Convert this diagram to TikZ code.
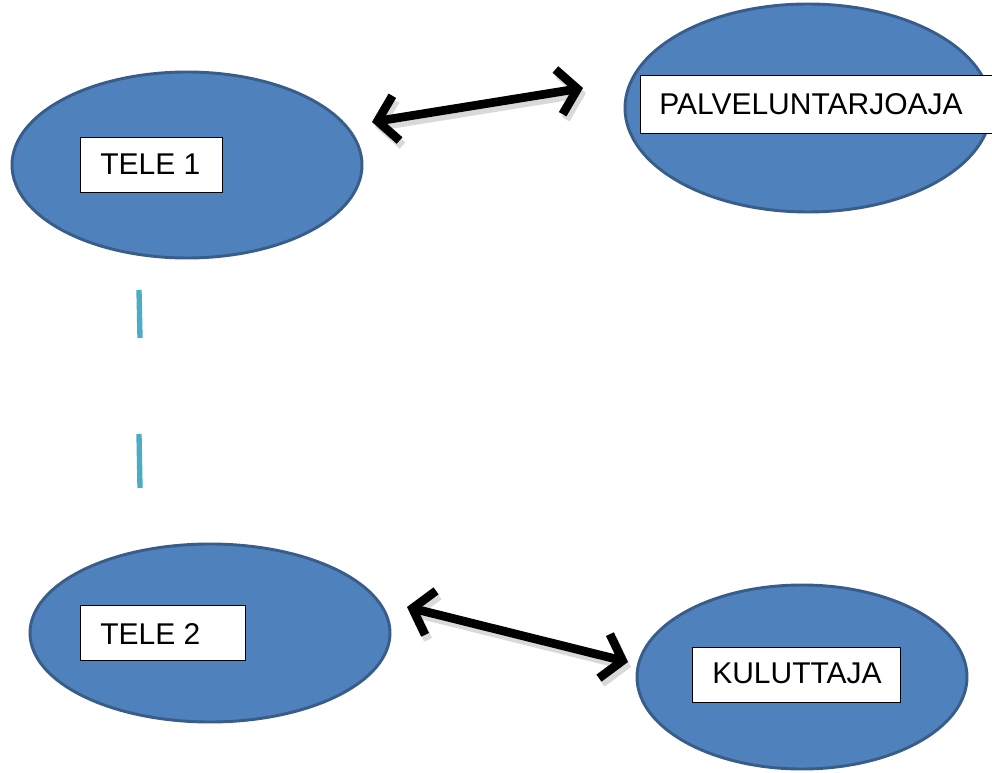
\documentclass[tikz,border=0pt]{standalone}
\usepackage{fontspec}
\setmainfont{Liberation Sans}
\usetikzlibrary{shapes.geometric,arrows.meta,shadows}
\definecolor{ellfill}{HTML}{4F81BD}
\definecolor{elldraw}{HTML}{385D8A}
\definecolor{dashblue}{HTML}{4BACC6}
\tikzset{
  blob/.style={ellipse, fill=ellfill, draw=elldraw, line width=2.2pt, inner sep=0pt},
  label box/.style={draw=black, line width=0.9pt, fill=white, anchor=north west, inner sep=0pt},
  label text/.style={anchor=west, inner sep=0pt, font=\fontsize{22.5pt}{26pt}\selectfont},
  dbl/.style={line width=6.5pt, black, {Straight Barb[length=14pt,width=34pt,line width=6.5pt]}-{Straight Barb[length=14pt,width=34pt,line width=6.5pt]}},
  tick/.style={line width=4pt, dashblue}
}
\begin{document}
\begin{tikzpicture}[x=0.75pt,y=-0.75pt]
\useasboundingbox (0,0) rectangle (992,773);
\node[blob, minimum width=350*0.75pt, minimum height=186*0.75pt] (t1) at (187,165) {};
\node[blob, minimum width=366*0.75pt, minimum height=208*0.75pt] (pv) at (808,108) {};
\node[blob, minimum width=360*0.75pt, minimum height=178*0.75pt] (t2) at (210,633) {};
\node[blob, minimum width=330*0.75pt, minimum height=184*0.75pt] (ku) at (802,677) {};

\node[label box, minimum width=142*0.75pt, minimum height=55*0.75pt] (t1l) at (80,137) {};
\node[label text] (t1t) at (100,164) {TELE 1};
\node[label box, minimum width=352*0.75pt, minimum height=58*0.75pt] (pvl) at (640,75) {};
\node[label text] (pvt) at (659,104) {PALVELUNTARJOAJA};
\node[label box, minimum width=165*0.75pt, minimum height=55*0.75pt] (t2l) at (80,605) {};
\node[label text] (t2t) at (100,634) {TELE 2};
\node[label box, minimum width=208*0.75pt, minimum height=55*0.75pt] (kul) at (692,647) {};
\node[label text] (kut) at (712,673) {KULUTTAJA};

\coordinate (a1) at (372,122);
\coordinate (a2) at (583,88);
\coordinate (b1) at (407,607);
\coordinate (b2) at (628,662);
\draw[dbl, gray!50, opacity=0.6] ([shift={(3,5)}]a1) -- ([shift={(3,5)}]a2);
\draw[dbl] (a1) -- (a2);
\draw[dbl, gray!50, opacity=0.6] ([shift={(3,5)}]b1) -- ([shift={(3,5)}]b2);
\draw[dbl] (b1) -- (b2);

\coordinate (d1) at (139,290);
\coordinate (d2) at (140,338);
\coordinate (d3) at (139,434);
\coordinate (d4) at (140,488);
\draw[tick] (d1) -- (d2);
\draw[tick] (d3) -- (d4);
\end{tikzpicture}
\end{document}
